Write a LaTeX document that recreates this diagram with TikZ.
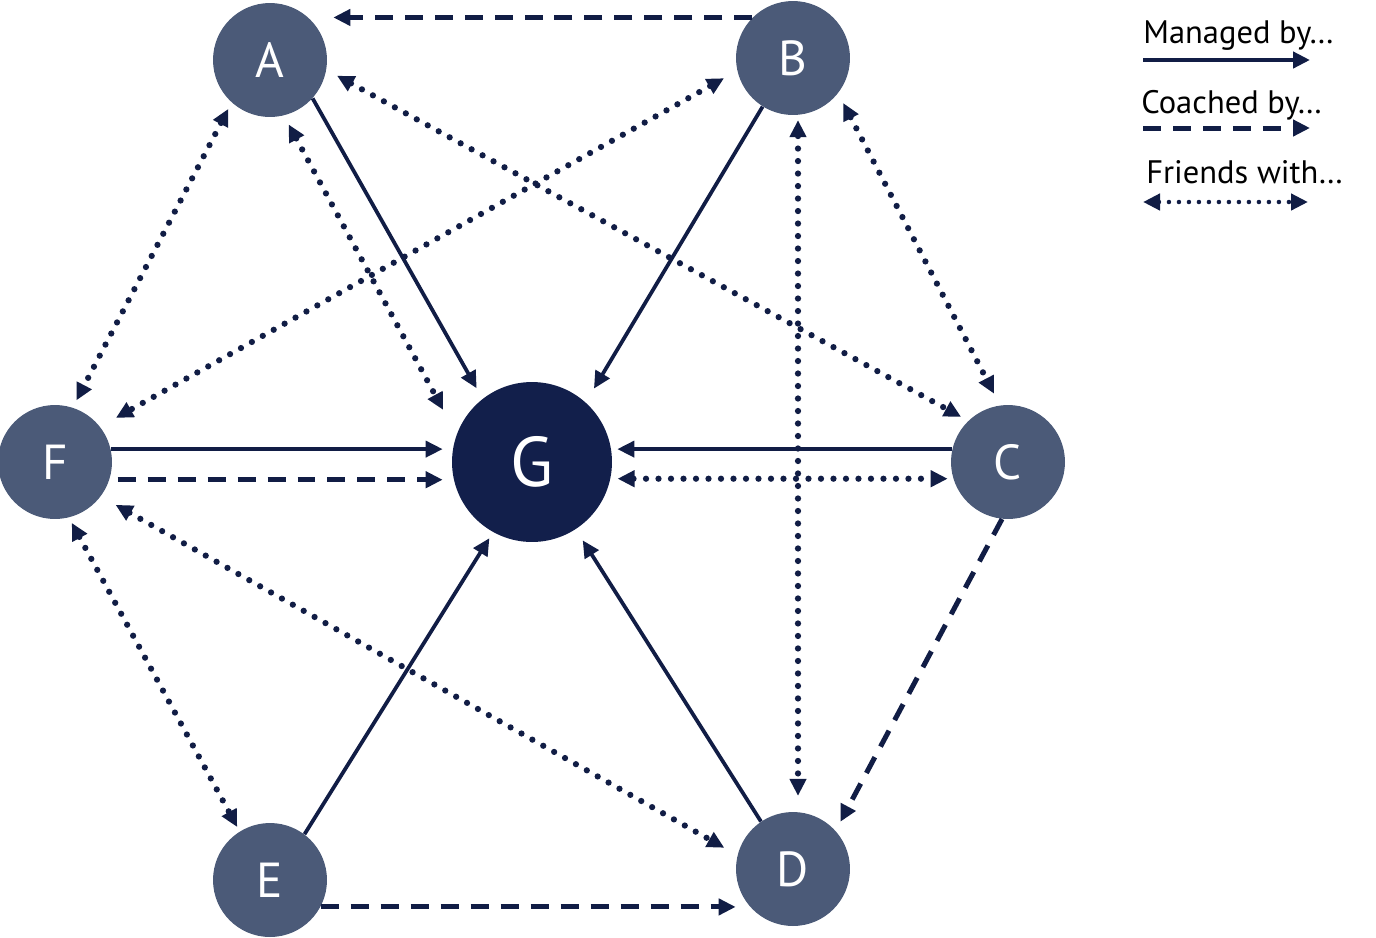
\documentclass[tikz,border=0pt]{standalone}
\usepackage{fontspec}
\setmainfont{PT Sans}
\usetikzlibrary{
    arrows.meta     % For the Triangle arrow tips
}
\definecolor{nodeslate}{RGB}{75, 90, 120}
\definecolor{hubnavy}{RGB}{18, 31, 75}
\definecolor{linknavy}{RGB}{17, 29, 69}

\begin{document}
\begin{tikzpicture}[
    x=0.02cm, y=-0.02cm, % One unit per pixel of the sketch, y downwards
    >={Triangle[length=0.34cm, width=0.32cm]}, % Default arrow tip style
    % Styles
    person/.style={ % Style for the six outer people
        circle,
        fill=nodeslate,
        text=white,
        minimum size=2.28cm,
        inner sep=0pt,
        font=\fontsize{28}{28}\selectfont
    },
    hub/.style={ % Style for the central person
        circle,
        fill=hubnavy,
        text=white,
        minimum size=3.2cm,
        inner sep=0pt,
        font=\fontsize{40}{40}\selectfont
    },
    managed/.style={
        ->, linknavy, line width=0.075cm
    },
    coached/.style={
        ->, linknavy, line width=0.1cm, dash pattern=on 0.36cm off 0.24cm
    },
    friends/.style={ % Round dots, arrow at both ends
        <->, linknavy, line width=0.125cm, line cap=round,
        dash pattern=on 0pt off 0.25cm
    },
    legend_text/.style={ % Style for the legend captions
        anchor=base west,
        inner sep=0pt,
        font=\fontsize{18.5}{18.5}\selectfont
    }
]
\useasboundingbox (0,0) rectangle (1376,937);

% --- People ---
\node[hub] (G) at (532,462) {G};
\node[person] (A) at (270,60) {A};
\node[person] (B) at (793,58) {B};
\node[person] (C) at (1008,462) {C};
\node[person] (D) at (793,869) {D};
\node[person] (E) at (270,880) {E};
\node[person] (F) at (55,462) {F};

% --- Managed by ---
\draw[managed, shorten >=0.24cm] (A.-42) -- (G.128);
\draw[managed, shorten >=0.32cm] (B.-122) -- (G.48);
\draw[managed, shorten >=0.1cm] (C.167) -- (C.167 -| G.east);
\draw[managed, shorten >=0.26cm] (D.124) -- (G.-57);
\draw[managed, shorten >=0.14cm] (E.53) -- (G.-119);
\draw[managed, shorten >=0.18cm] (F.13) -- (F.13 -| G.west);

% --- Coached by ---
\draw[coached, shorten >=0.12cm] (B.135) -- (B.135 -| A.east);
\draw[coached, shorten <=0.16cm, shorten >=0.18cm] (F.-18) -- (F.-18 -| G.west);
\draw[coached, shorten >=0.2cm] (C.-96) -- (D.42);
\draw[coached] (E.-28) -- (E.-28 -| D.west);

% --- Friends with ---
\draw[friends, shorten <=0.14cm, shorten >=0.16cm] (A.-132) -- (F.72);
\draw[friends, shorten <=0.2cm, shorten >=0.56cm] (A.-76) -- (G.160);
\draw[friends, shorten <=0.24cm, shorten >=0.16cm] (A.-10) -- (C.134);
\draw[friends, shorten <=0.3cm, shorten >=0.36cm] (B.-167) -- (F.38);
\draw[friends, shorten <=0.22cm, shorten >=0.26cm] (B.-38) -- (C.98);
\draw[friends, shorten <=0.1cm, shorten >=0.32cm] (B.-85) -- (D.85);
\draw[friends, shorten <=0.14cm, shorten >=0.06cm] (G.-12) -- (G.-12 -| C.west);
\draw[friends, shorten <=0.12cm, shorten >=0.1cm] (F.-76) -- (E.122);
\draw[friends, shorten <=0.34cm, shorten >=0.3cm] (F.-37) -- (D.166);

% --- Legend ---
\node[legend_text] (lgmanaged) at (1143,43) {Managed by…};
\coordinate (lgm1) at (1143,60);
\coordinate (lgm2) at (1310,60);
\draw[managed, line width=0.09cm] (lgm1) -- (lgm2);

\node[legend_text] (lgcoached) at (1141,113) {Coached by…};
\coordinate (lgc1) at (1143,128);
\coordinate (lgc2) at (1310,128);
\draw[coached] (lgc1) -- (lgc2);

\node[legend_text] (lgfriends) at (1146,183) {Friends with…};
\coordinate (lgf1) at (1143,202);
\coordinate (lgf2) at (1308,202);
\draw[friends, line width=0.09cm, dash pattern=on 0pt off 0.2cm] (lgf1) -- (lgf2);

\end{tikzpicture}
\end{document}
